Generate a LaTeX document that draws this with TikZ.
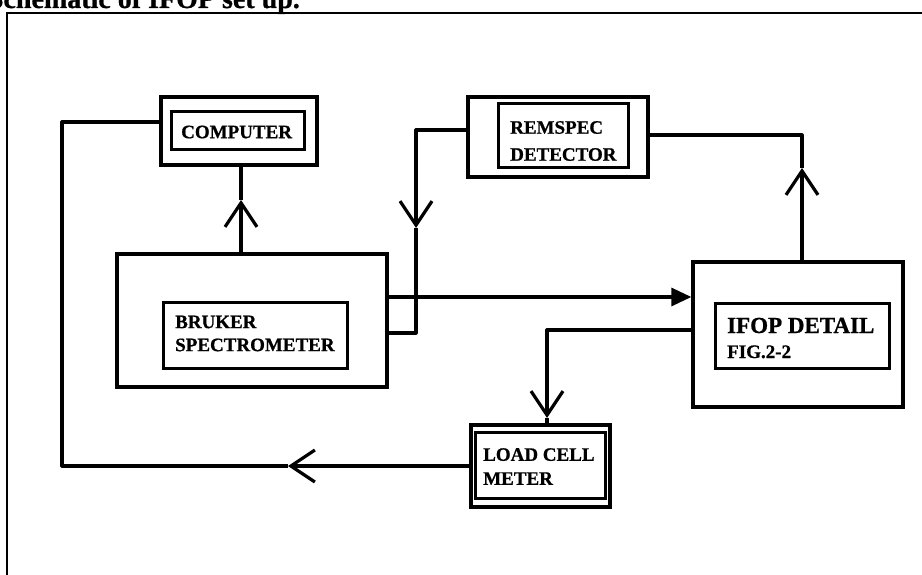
\documentclass[tikz,border=0pt]{standalone}
\usepackage{fontspec}
\setmainfont{Liberation Serif}[BoldFeatures={FakeBold=0.8}]
\usetikzlibrary{arrows.meta}
\begin{document}
\begin{tikzpicture}[x=1pt,y=-1pt,
  obox/.style={draw, line width=3.3pt, inner sep=0pt},
  ibox/.style={draw, line width=3pt, inner sep=0pt},
  wire/.style={line width=3.2pt, line join=round},
  oarrow/.style={wire, -{Straight Barb[length=24pt,width=32pt,line width=3.2pt]}},
  farrow/.style={wire, -{Triangle[length=20pt,width=18pt]}},
  lbl/.style={font=\fontsize{19}{24}\selectfont\bfseries, align=left, inner sep=0pt, anchor=west},
]
\useasboundingbox (0,0) rectangle (922,575);
\clip (0,0) rectangle (922,575);

% title (cut off by the page edge, as in the original) and frame
\node[anchor=base east, inner sep=0pt, font=\fontsize{28}{30}\selectfont\bfseries] (title) at (300,8) {Schematic of IFOP set up.};
\draw[line width=2.2pt] (7,575) -- (7,13) -- (922,13);

% boxes
\node[obox, minimum width=156pt, minimum height=68pt] (computer) at (239,131) {};
\node[ibox, minimum width=133pt, minimum height=38pt] (computerin) at (237.5,131) {};
\node[lbl] (computert) at (181,132) {COMPUTER};

\node[obox, minimum width=180pt, minimum height=80pt] (remspec) at (558,137) {};
\node[ibox, minimum width=130pt, minimum height=64pt] (remspecin) at (563,136) {};
\node[lbl] (remspect) at (510,141) {REMSPEC\\[3pt]DETECTOR};

\node[obox, minimum width=270pt, minimum height=133pt] (bruker) at (252,320.5) {};
\node[ibox, minimum width=184pt, minimum height=66pt] (brukerin) at (255,335) {};
\node[lbl] (brukert) at (175,333.5) {BRUKER\\[-1pt]SPECTROMETER};

\node[obox, minimum width=210pt, minimum height=145pt] (ifop) at (798,334.5) {};
\node[ibox, minimum width=174pt, minimum height=65pt] (ifopin) at (802,335.5) {};
\node[anchor=base west, inner sep=0pt, font=\fontsize{23}{25}\selectfont\bfseries] (ifopt1) at (727,333) {IFOP DETAIL};
\node[anchor=base west, inner sep=0pt, font=\fontsize{19}{24}\selectfont\bfseries] (ifopt2) at (727,358) {FIG.2-2};

\node[obox, minimum width=139pt, minimum height=82pt] (loadcell) at (540.5,466) {};
\node[ibox, minimum width=130pt, minimum height=66pt] (loadcellin) at (540.5,465) {};
\node[lbl] (loadcellt) at (483,466.5) {LOAD CELL\\METER};

% connector coordinates
\coordinate (la) at (288,466);
\coordinate (c1) at (62,466);
\coordinate (c2) at (62,122);
\coordinate (ca) at (241,200);
\coordinate (r1) at (416,130);
\coordinate (ra) at (416,228);
\coordinate (r2) at (416,333);
\coordinate (m) at (500,297);
\coordinate (ia) at (802,168);
\coordinate (i1) at (802,135);
\coordinate (l1) at (547,330);
\coordinate (lb) at (547,418);

% load cell -> computer
\draw[oarrow] (loadcell.west) -- (la);
\draw[wire] (la) -- (c1) -- (c2) -- (computer.west |- c2);
% bruker -> computer
\draw[oarrow] (bruker.north -| ca) -- (ca);
\draw[wire] (ca) -- (computer.south -| ca);
% remspec -> bruker
\draw[oarrow] (remspec.west |- r1) -- (r1) -- (ra);
\draw[wire] (ra) -- (r2) -- (bruker.east |- r2);
% bruker -> ifop
\draw[farrow] (bruker.east |- m) -- (ifop.west |- m);
% ifop -> remspec
\draw[oarrow] (ifop.north -| ia) -- (ia);
\draw[wire] (ia) -- (i1) -- (remspec.east |- i1);
% ifop -> load cell
\draw[oarrow] (ifop.west |- l1) -- (l1) -- (lb);
\draw[wire] (lb) -- (loadcell.north -| lb);
\end{tikzpicture}
\end{document}
